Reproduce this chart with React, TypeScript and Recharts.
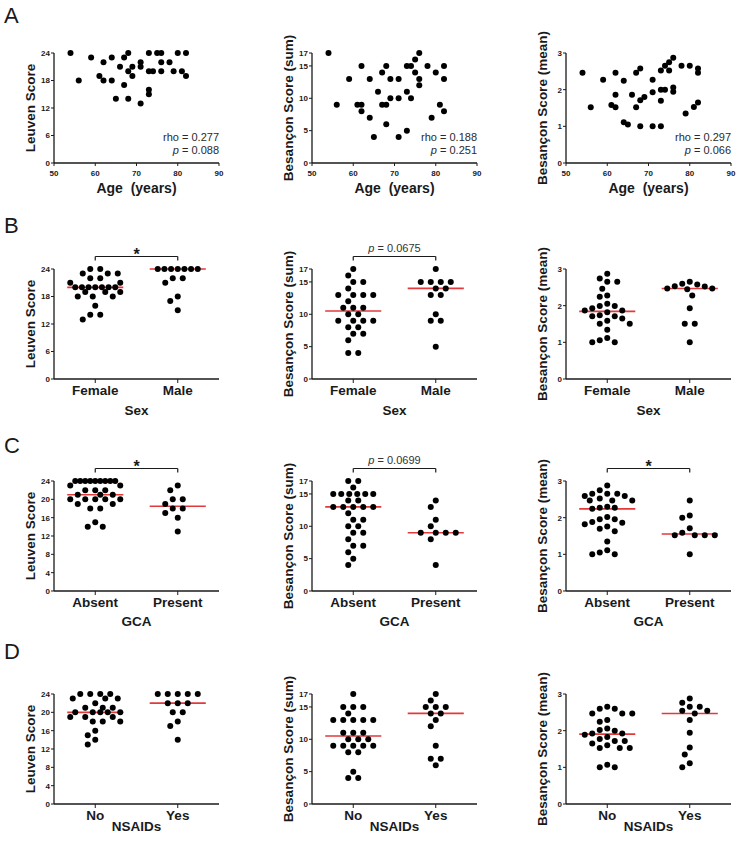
import React from 'react';
import { ScatterChart, Scatter, XAxis, YAxis, ReferenceLine } from 'recharts';

const FONT = '"Liberation Sans", Arial, Helvetica, sans-serif';
const INK = '#1a1a1a';
const RED = '#e2393b';

// Row A: scores against age, [age, score]
const leuvenByAge: [number, number][] = [
  [54, 24], [56, 18], [59, 23], [61, 19], [62, 22], [62, 18], [64, 23], [64, 18], [65, 14],
  [66, 21], [67, 23], [67, 17], [68, 24], [68, 20], [68, 14], [69, 21], [69, 19], [71, 22],
  [71, 21], [71, 13], [73, 24], [73, 20], [73, 16], [73, 15], [74, 20], [75, 24], [76, 24],
  [76, 22], [76, 20], [78, 22], [79, 20], [80, 24], [81, 20], [82, 24], [82, 19],
];
const sumByAge: [number, number][] = [
  [54, 17], [56, 9], [59, 13], [61, 9], [62, 15], [62, 9], [62, 8], [64, 13], [64, 7], [65, 4],
  [66, 11], [67, 14], [67, 9], [68, 15], [68, 9], [68, 6], [69, 13], [69, 10], [71, 13], [71, 10],
  [71, 4], [73, 15], [73, 11], [73, 5], [74, 15], [74, 10], [75, 16], [75, 14], [76, 17], [76, 13],
  [76, 12], [78, 15], [79, 7], [80, 14], [81, 9], [82, 15], [82, 13], [82, 8],
];
const meanByAge: [number, number][] = [
  [54, 2.46], [56, 1.52], [59, 2.27], [61, 1.58], [62, 2.46], [62, 1.86], [62, 1.52], [64, 2.24],
  [64, 1.11], [65, 1.05], [66, 1.86], [67, 2.46], [67, 1.52], [68, 2.58], [68, 1.71], [68, 1.0],
  [69, 1.8], [71, 2.27], [71, 1.93], [71, 1.0], [73, 2.52], [73, 2.0], [73, 1.7], [73, 1.0],
  [74, 2.65], [74, 2.0], [75, 2.75], [75, 2.52], [76, 2.87], [76, 2.06], [76, 1.94], [78, 2.65],
  [79, 1.35], [80, 2.65], [81, 1.53], [82, 2.58], [82, 2.46], [82, 1.65],
];

// Row B: sex
const sexCats = ['Female', 'Male'];
const leuvenFemale = [24, 24, 23, 23, 23, 22, 22, 21, 21, 20, 20, 20, 20, 20, 20, 20, 19, 19, 19, 18, 18, 18, 16, 14, 14, 13];
const leuvenMale = [24, 24, 24, 24, 24, 24, 24, 22, 22, 21, 18, 17, 15];
const sumFemale = [17, 16, 15, 15, 14, 13, 13, 13, 13, 12, 11, 11, 11, 10, 10, 9, 9, 9, 9, 8, 8, 7, 7, 6, 4, 4];
const sumMale = [17, 15, 15, 15, 15, 14, 14, 13, 13, 10, 9, 9, 5];
const meanFemale = [2.87, 2.74, 2.65, 2.65, 2.46, 2.28, 2.24, 2.05, 1.99, 1.99, 1.93, 1.87, 1.87, 1.82, 1.74, 1.71, 1.71, 1.65, 1.59, 1.51, 1.51, 1.34, 1.12, 1.06, 1.0, 1.0];
const meanMale = [2.65, 2.6, 2.58, 2.53, 2.52, 2.47, 2.47, 2.45, 2.28, 1.93, 1.51, 1.51, 1.0];

// Row C: GCA
const gcaCats = ['Absent', 'Present'];
const leuvenAbsent = [24, 24, 24, 24, 24, 24, 24, 24, 24, 23, 23, 22, 22, 22, 21, 21, 21, 20, 20, 20, 20, 20, 19, 19, 18, 18, 15, 14, 14];
const leuvenPresent = [23, 22, 20, 20, 19, 18, 18, 17, 16, 13];
const sumAbsent = [17, 17, 16, 15, 15, 15, 15, 15, 15, 14, 14, 13, 13, 13, 13, 13, 12, 11, 11, 10, 10, 9, 9, 8, 7, 7, 6, 5, 4];
const sumPresent = [14, 13, 11, 10, 9, 9, 9, 9, 8, 4];
const meanAbsent = [2.88, 2.75, 2.65, 2.65, 2.65, 2.59, 2.59, 2.52, 2.47, 2.47, 2.47, 2.3, 2.27, 2.27, 2.24, 2.02, 1.96, 1.96, 1.88, 1.86, 1.82, 1.76, 1.7, 1.63, 1.35, 1.11, 1.05, 1.0, 1.0];
const meanPresent = [2.47, 2.06, 2.0, 1.71, 1.59, 1.52, 1.52, 1.52, 1.52, 1.0];

// Row D: NSAIDs
const nsaidCats = ['No', 'Yes'];
const leuvenNo = [24, 24, 24, 24, 23, 23, 23, 22, 21, 21, 21, 20, 20, 20, 20, 20, 19, 19, 19, 18, 18, 18, 16, 15, 14, 13];
const leuvenYes = [24, 24, 24, 24, 24, 22, 22, 22, 20, 20, 18, 17, 14];
const sumNo = [17, 15, 15, 15, 14, 13, 13, 13, 13, 13, 11, 11, 11, 10, 10, 10, 9, 9, 9, 9, 9, 8, 8, 5, 4, 4];
const sumYes = [17, 16, 15, 15, 15, 14, 14, 13, 12, 9, 7, 7, 6];
const meanNo = [2.65, 2.6, 2.6, 2.47, 2.47, 2.47, 2.29, 2.24, 2.06, 2.02, 2.0, 1.92, 1.92, 1.89, 1.83, 1.77, 1.72, 1.72, 1.65, 1.6, 1.53, 1.53, 1.53, 1.07, 1.0, 1.0];
const meanYes = [2.88, 2.76, 2.65, 2.65, 2.54, 2.54, 2.47, 2.29, 1.94, 1.54, 1.35, 1.11, 1.0];

const ageTicks = [50, 60, 70, 80, 90];
const leuvenTicksWide = [0, 6, 12, 18, 24];
const leuvenTicksFine = [0, 4, 8, 12, 16, 20, 24];
const sumTicks = [0, 5, 10, 15, 17];
const meanTicks = [0, 1, 2, 3];

// layout
const PLOT_W = 165;
const PLOT_H = 110;
const ML = 50;
const MT = 30;
const MR = 10;
const MB = 45;
const colX = [54, 312, 566];
const rowY = [53, 269, 481, 694];
const titleGap = [25, 31, 30, 22];
const D_MIN = 7.5;
const D_DENSE = 5.5;

function median(vals: number[]) {
  const s = [...vals].sort((a, b) => a - b);
  const m = s.length >> 1;
  return s.length % 2 ? s[m] : (s[m - 1] + s[m]) / 2;
}

// simple beeswarm on a 2.5px grid within +-25px, returned in chart units.
// rows of many equal values are laid out first, squeezed into +-20px
function swarm(values: number[], center: number, yMax: number) {
  const pyPerUnit = PLOT_H / yMax;
  const pxPerUnit = PLOT_W / 2;
  const rows = new Map<number, number>();
  values.forEach((v) => rows.set(v, (rows.get(v) || 0) + 1));
  const rowList = [...rows.entries()].sort((a, b) => {
    const da = a[1] > 5 ? 1 : 0;
    const db = b[1] > 5 ? 1 : 0;
    return db - da || b[0] - a[0];
  });
  const cands: number[] = [];
  for (let k = -10; k <= 10; k++) cands.push(k * 2.5);
  const placed: { v: number; dx: number; py: number; dense: boolean }[] = [];
  const out: { x: number; y: number }[] = [];
  rowList.forEach(([v, n]) => {
    const dense = n > 5;
    const sp = dense ? 40 / (n - 1) : 10;
    const py = v * pyPerUnit;
    for (let i = 0; i < n; i++) {
      const ideal = (i - (n - 1) / 2) * sp;
      let dx = ideal;
      if (!dense) {
        const order = [...cands].sort((a, b) => Math.abs(a - ideal) - Math.abs(b - ideal) || Math.abs(a) - Math.abs(b));
        // slack < 0 means the spot overlaps something already placed
        const slack = (c: number) =>
          Math.min(
            0,
            ...placed.map((q) =>
              q.v === v
                ? Math.abs(q.dx - c) - (sp - 0.6)
                : Math.hypot(q.dx - c, q.py - py) - (q.dense ? D_DENSE : D_MIN)
            )
          );
        let best = order[0];
        let bestSlack = -Infinity;
        for (const c of order) {
          const s = slack(c);
          if (s >= 0) { best = c; bestSlack = s; break; }
          if (s > bestSlack + 0.01) { best = c; bestSlack = s; }
        }
        dx = best;
      }
      placed.push({ v, dx, py, dense });
      out.push({ x: center + dx / pxPerUnit, y: v });
    }
  });
  return out;
}

const Dot = (p: any) => <circle cx={p.cx} cy={p.cy} r={3} fill="#000" />;

const yTitle = (text: string) => (props: any) => {
  const vb = props.viewBox;
  const x = vb.x + vb.width - 24;
  const y = vb.y + vb.height / 2;
  return (
    <text x={x} y={y} transform={`rotate(-90 ${x} ${y})`} textAnchor="middle" dominantBaseline="central"
      fontSize={13.5} fontWeight="bold" fill={INK}>
      {text}
    </text>
  );
};

const xTitle = (text: string, gap: number, size: number) => (props: any) => {
  const vb = props.viewBox;
  return (
    <text x={vb.x + vb.width / 2} y={vb.y + gap} textAnchor="middle" dominantBaseline="central"
      fontSize={size} fontWeight="bold" fill={INK} style={{ whiteSpace: 'pre' }}>
      {text}
    </text>
  );
};

const sigLabel = (sig: string) => (props: any) => {
  const vb = props.viewBox;
  const cx = vb.x + vb.width / 2;
  if (sig === '*') {
    return (
      <text x={cx} y={vb.y + 3} textAnchor="middle" fontSize={16} fontWeight="bold" fill={INK}>*</text>
    );
  }
  return (
    <text x={cx} y={vb.y - 5} textAnchor="middle" fontSize={11} fill="#333">
      <tspan fontStyle="italic">p</tspan> = {sig}
    </text>
  );
};

const axisLine = { stroke: INK, strokeWidth: 1.3 };
const tickLine = { stroke: INK, strokeWidth: 1 };
const smallTick = { fontSize: 8, fontWeight: 'bold', fill: INK };

function YAx({ yMax, ticks, label }: { yMax: number; ticks: number[]; label: string }) {
  return (
    <YAxis type="number" dataKey="y" domain={[0, yMax]} ticks={ticks} interval={0} width={ML}
      axisLine={axisLine} tickLine={tickLine} tickSize={3} tickMargin={1} tick={smallTick}
      label={yTitle(label)} />
  );
}

function AgePanel({ col, points, yMax, yTicks, yLabel, rho, p }: any) {
  const data = points.map(([age, s]: [number, number]) => ({ x: age, y: s }));
  return (
    <div style={{ position: 'absolute', left: colX[col] - ML, top: rowY[0] - MT }}>
      <ScatterChart width={ML + PLOT_W + MR} height={MT + PLOT_H + MB}
        margin={{ top: MT, right: MR, bottom: 0, left: 0 }}>
        <XAxis type="number" dataKey="x" domain={[50, 90]} ticks={ageTicks} interval={0} height={MB}
          axisLine={axisLine} tickLine={tickLine} tickSize={3} tickMargin={4} tick={smallTick}
          label={xTitle('Age  (years)', titleGap[0], 14)} />
        {YAx({ yMax, ticks: yTicks, label: yLabel })}
        <Scatter data={data} shape={Dot} isAnimationActive={false} />
      </ScatterChart>
      <svg width={PLOT_W} height={30} style={{ position: 'absolute', left: ML, top: MT + 78 }}>
        <text x={PLOT_W} y={10} textAnchor="end" fontSize={11} fill="#2a2a2a">rho = {rho}</text>
        <text x={PLOT_W} y={23} textAnchor="end" fontSize={11} fill="#2a2a2a">
          <tspan fontStyle="italic">p</tspan> = {p}
        </text>
      </svg>
    </div>
  );
}

function GroupPanel({ col, row, groups, cats, xLabel, yMax, yTicks, yLabel, sig }: any) {
  const data = [...swarm(groups[0], 0.5, yMax), ...swarm(groups[1], 1.5, yMax)];
  const meds = groups.map(median);
  const yb = yMax * (1 + 12.5 / PLOT_H);
  const leg = (yMax * 4) / PLOT_H;
  return (
    <div style={{ position: 'absolute', left: colX[col] - ML, top: rowY[row] - MT }}>
      <ScatterChart width={ML + PLOT_W + MR} height={MT + PLOT_H + MB}
        margin={{ top: MT, right: MR, bottom: 0, left: 0 }}>
        <XAxis type="number" dataKey="x" domain={[0, 2]} ticks={[0.5, 1.5]} interval={0} height={MB}
          tickFormatter={(v: number) => cats[v < 1 ? 0 : 1]}
          axisLine={axisLine} tickLine={tickLine} tickSize={4} tickMargin={2}
          tick={{ fontSize: 13.5, fontWeight: 'bold', fill: INK }}
          label={xTitle(xLabel, titleGap[row], 13.5)} />
        {YAx({ yMax, ticks: yTicks, label: yLabel })}
        <Scatter data={data} shape={Dot} isAnimationActive={false} />
        {meds.map((m: number, i: number) => (
          <ReferenceLine key={i} ifOverflow="visible" stroke={RED} strokeWidth={1.6}
            segment={[{ x: 0.5 + i - 0.34, y: m }, { x: 0.5 + i + 0.34, y: m }]} />
        ))}
        {sig && (
          <ReferenceLine ifOverflow="visible" stroke={INK} strokeWidth={1.2}
            segment={[{ x: 0.5, y: yb }, { x: 1.5, y: yb }]} label={sigLabel(sig)} />
        )}
        {sig && (
          <ReferenceLine ifOverflow="visible" stroke={INK} strokeWidth={1.2}
            segment={[{ x: 0.5, y: yb }, { x: 0.5, y: yb - leg }]} />
        )}
        {sig && (
          <ReferenceLine ifOverflow="visible" stroke={INK} strokeWidth={1.2}
            segment={[{ x: 1.5, y: yb }, { x: 1.5, y: yb - leg }]} />
        )}
      </ScatterChart>
    </div>
  );
}

function Letter({ text, top }: { text: string; top: number }) {
  return (
    <div style={{ position: 'absolute', left: 4, top, fontSize: 22, lineHeight: 1, color: INK }}>{text}</div>
  );
}

export default function App() {
  return (
    <div style={{
      position: 'absolute', left: 0, top: 0, width: 740, height: 844, background: '#fff',
      fontFamily: FONT, color: INK, overflow: 'hidden',
    }}>
      <Letter text="A" top={5} />
      <Letter text="B" top={215} />
      <Letter text="C" top={435} />
      <Letter text="D" top={641} />

      <AgePanel col={0} points={leuvenByAge} yMax={24} yTicks={leuvenTicksWide} yLabel="Leuven Score" rho="0.277" p="0.088" />
      <AgePanel col={1} points={sumByAge} yMax={17} yTicks={sumTicks} yLabel="Besançon Score (sum)" rho="0.188" p="0.251" />
      <AgePanel col={2} points={meanByAge} yMax={3} yTicks={meanTicks} yLabel="Besançon Score (mean)" rho="0.297" p="0.066" />

      <GroupPanel col={0} row={1} groups={[leuvenFemale, leuvenMale]} cats={sexCats} xLabel="Sex"
        yMax={24} yTicks={leuvenTicksWide} yLabel="Leuven Score" sig="*" />
      <GroupPanel col={1} row={1} groups={[sumFemale, sumMale]} cats={sexCats} xLabel="Sex"
        yMax={17} yTicks={sumTicks} yLabel="Besançon Score (sum)" sig="0.0675" />
      <GroupPanel col={2} row={1} groups={[meanFemale, meanMale]} cats={sexCats} xLabel="Sex"
        yMax={3} yTicks={meanTicks} yLabel="Besançon Score (mean)" />

      <GroupPanel col={0} row={2} groups={[leuvenAbsent, leuvenPresent]} cats={gcaCats} xLabel="GCA"
        yMax={24} yTicks={leuvenTicksFine} yLabel="Leuven Score" sig="*" />
      <GroupPanel col={1} row={2} groups={[sumAbsent, sumPresent]} cats={gcaCats} xLabel="GCA"
        yMax={17} yTicks={sumTicks} yLabel="Besançon Score (sum)" sig="0.0699" />
      <GroupPanel col={2} row={2} groups={[meanAbsent, meanPresent]} cats={gcaCats} xLabel="GCA"
        yMax={3} yTicks={meanTicks} yLabel="Besançon Score (mean)" sig="*" />

      <GroupPanel col={0} row={3} groups={[leuvenNo, leuvenYes]} cats={nsaidCats} xLabel="NSAIDs"
        yMax={24} yTicks={leuvenTicksFine} yLabel="Leuven Score" />
      <GroupPanel col={1} row={3} groups={[sumNo, sumYes]} cats={nsaidCats} xLabel="NSAIDs"
        yMax={17} yTicks={sumTicks} yLabel="Besançon Score (sum)" />
      <GroupPanel col={2} row={3} groups={[meanNo, meanYes]} cats={nsaidCats} xLabel="NSAIDs"
        yMax={3} yTicks={meanTicks} yLabel="Besançon Score (mean)" />
    </div>
  );
}
